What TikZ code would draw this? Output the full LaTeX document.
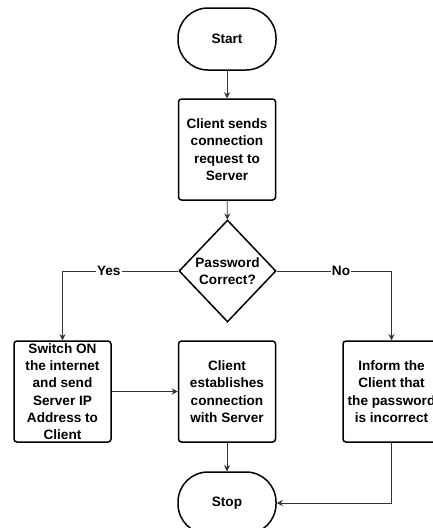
\documentclass[tikz,border=0pt]{standalone}
\usepackage{fontspec}
\setmainfont{Liberation Sans}
\usetikzlibrary{shapes.geometric,arrows.meta}
\begin{document}
\begin{tikzpicture}[x=1pt,y=-1pt,
  every node/.style={font=\fontsize{13.6}{17.3}\selectfont\bfseries, text=black},
  terminal/.style={draw, line width=1.5pt, rounded corners=30pt, minimum width=98pt, minimum height=62pt, inner sep=0pt},
  stepbox/.style={draw, line width=1.5pt, rounded corners=3pt, minimum width=97pt, minimum height=101pt, inner sep=0pt, align=center},
  decision/.style={draw, line width=1.5pt, diamond, minimum width=97pt, minimum height=102pt, inner sep=0pt, align=center},
  conn/.style={draw=black!80, line width=0.9pt, -{Stealth[length=6pt,width=6pt]}},
  edgelabel/.style={fill=white, inner sep=1pt}]
  \useasboundingbox (0,0) rectangle (433,528);
  \begin{scope}
  \clip (0,0) rectangle (433,528);
  % main column
  \node[terminal] (start) at (227,39) {Start};
  \node[stepbox] (send) at (227,149.5) {Client sends\\connection\\request to\\Server};
  \node[decision] (pw) at (227.5,271) {Password\\Correct?};
  % result boxes
  \node[stepbox] (switch) at (62.5,391.5) {Switch ON\\the internet\\and send\\Server IP\\Address to\\Client};
  \node[stepbox] (est) at (227,391.5) {Client\\establishes\\connection\\with Server};
  \node[stepbox] (inform) at (391.5,391.5) {Inform the\\Client that\\the password\\is incorrect};
  \node[terminal] (stop) at (227,503) {Stop};
  % connectors
  \draw[conn] (start) -- (send);
  \draw[conn] (send) -- (pw);
  \draw[conn] (pw.west) -| node[pos=0.3, edgelabel] {Yes} (switch.north);
  \draw[conn] (pw.east) -| node[pos=0.28, edgelabel] {No} (inform.north);
  \draw[conn] (switch) -- (est);
  \draw[conn] (est) -- (stop);
  \draw[conn] (inform.south) |- (stop.east);
  \end{scope}
\end{tikzpicture}
\end{document}
